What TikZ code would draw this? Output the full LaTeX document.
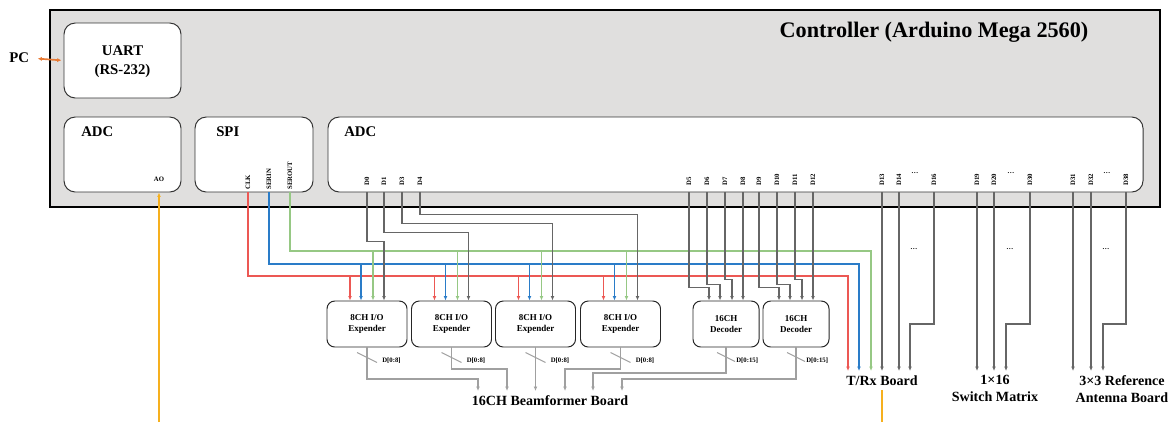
\documentclass[tikz,border=0pt]{standalone}
\usepackage{fontspec}
\setmainfont{Liberation Serif}
\usepackage{xcolor}
\usetikzlibrary{arrows.meta,calc}
\definecolor{ctrlgray}{RGB}{224,223,222}
\definecolor{clkred}{RGB}{236,88,84}
\definecolor{serblue}{RGB}{42,124,200}
\definecolor{sergreen}{RGB}{150,200,132}
\definecolor{wiregray}{RGB}{102,102,102}
\definecolor{outgray}{RGB}{160,160,160}
\definecolor{aoorange}{RGB}{246,176,30}
\definecolor{pcorange}{RGB}{232,122,52}
\tikzset{
  ctrlbox/.style={rectangle,draw=black,line width=1.4pt,fill=ctrlgray,inner sep=0pt},
  unitbox/.style={rectangle,rounded corners=8pt,draw=black!80,line width=0.7pt,
    fill=white,inner sep=0pt,minimum height=18.75mm},
  chipbox/.style={rectangle,rounded corners=5.5pt,draw=black!85,line width=0.7pt,
    fill=white,inner sep=0pt,minimum height=11.5mm,align=center,
    font=\bfseries\fontsize{6.4}{7.8}\selectfont},
  unitlabel/.style={anchor=west,inner sep=0pt,font=\bfseries\fontsize{10.5}{12}\selectfont},
  pinlabel/.style={rotate=90,anchor=west,inner sep=0pt,font=\bfseries\fontsize{4.8}{5}\selectfont},
  buslabel/.style={anchor=west,inner sep=0pt,font=\bfseries\fontsize{4.8}{5}\selectfont},
  dotsnode/.style={inner sep=0pt,font=\bfseries\fontsize{5}{5}\selectfont},
  boardlabel/.style={anchor=north,align=center,inner sep=3pt,
    font=\bfseries\fontsize{10}{12}\selectfont},
  tip/.style={-{Latex[length=3.2pt,width=2.8pt]}},
  clkwire/.style={tip,line width=1.2pt,clkred},
  serinwire/.style={tip,line width=1.2pt,serblue},
  seroutwire/.style={tip,line width=1.2pt,sergreen},
  dwire/.style={tip,line width=1.2pt,wiregray},
  outwire/.style={tip,line width=1.2pt,outgray},
  outslash/.style={line width=0.7pt,outgray},
  aowire/.style={tip,line width=1.2pt,aoorange},
  pcwire/.style={{Latex[length=3pt,width=3pt]}-{Latex[length=3pt,width=3pt]},line width=1.2pt,pcorange}
}
\begin{document}
\begin{tikzpicture}[x=0.25mm,y=-0.25mm]
  \useasboundingbox (0,0) rectangle (1169,422);
  \node[ctrlbox,minimum width=277.5mm,minimum height=49.25mm] (ctrl) at (605,108.5) {};
  \node[inner sep=0pt,font=\bfseries\fontsize{15.8}{18}\selectfont] (title) at (934,32) {Controller (Arduino Mega 2560)};

  \node[unitbox,minimum width=29.25mm] (uart) at (122.5,60.5) {};
  \node[align=center,inner sep=0pt,font=\bfseries\fontsize{10.5}{13.5}\selectfont] (uarttext) at (122.5,62) {UART\\(RS-232)};
  \node[unitbox,minimum width=29.25mm] (adcl) at (122.5,154.5) {};
  \node[unitbox,minimum width=29.5mm] (spi) at (254,154.5) {};
  \node[unitbox,minimum width=203.75mm] (adcd) at (735.5,154.5) {};
  \node[unitlabel] (adcltext) at (81,132) {ADC};
  \node[unitlabel] (spitext) at (216,132) {SPI};
  \node[unitlabel] (adcdtext) at (344,132) {ADC};
  \node[unitlabel] (pc) at (9,58) {PC};
  \node[buslabel,anchor=center] (ao) at (159,179) {AO};

  \coordinate (clk) at (248,192);
  \coordinate (serin) at (269,192);
  \coordinate (serout) at (290,192);
  \node[pinlabel] (clktext) at (248,190) {CLK};
  \node[pinlabel] (serintext) at (269,190) {SERIN};
  \node[pinlabel] (serouttext) at (290,190) {SEROUT};
  \foreach \n/\x in {0/367,1/384,3/402,4/420,5/689,6/707,7/725,8/743,9/759,10/777,11/795,12/813,
      13/882,14/899,16/934,19/977,20/994,30/1030,31/1073,32/1091,38/1126}{
    \coordinate (d\n) at (\x,192);
    \node[pinlabel] (pin\n) at (\x,186) {D\n};
  }
  \foreach \x/\n in {915/1,1011/2,1107/3}{
    \node[dotsnode] (pindots\n) at (\x,173) {\ldots};
    \node[dotsnode] (wiredots\n) at (\x-1,249) {\ldots};
  }

  \foreach \i/\x in {1/367,2/451.5,3/535.5,4/620.5}
    \node[chipbox,minimum width=20mm] (exp\i) at (\x,324) {8CH I/O\\Expender};
  \node[chipbox,minimum width=16.5mm] (dec1) at (726,324) {16CH\\Decoder};
  \node[chipbox,minimum width=16.5mm] (dec2) at (796,324) {16CH\\Decoder};

  \node[boardlabel] (bf) at (550,391) {16CH Beamformer Board};
  \node[boardlabel] (trx) at (882,371) {T/Rx Board};
  \node[boardlabel] (sw) at (995,371) {1×16\\Switch Matrix};
  \node[boardlabel] (ant) at (1122,371) {3×3 Reference\\Antenna Board};

  \coordinate (clkturn) at (848,276);
  \coordinate (serinturn) at (859,264);
  \coordinate (seroutturn) at (871,251);
  \draw[clkwire] (clk) |- (clkturn) -- (clkturn |- trx.north);
  \draw[serinwire] (serin) |- (serinturn) -- (serinturn |- trx.north);
  \draw[seroutwire] (serout) |- (seroutturn) -- (seroutturn |- trx.north);
  \foreach \i in {1,...,4}{
    \draw[clkwire] ($(exp\i.north)+(-17,-25)$) -- ($(exp\i.north)+(-17,0)$);
    \draw[serinwire] ($(exp\i.north)+(-6,-37)$) -- ($(exp\i.north)+(-6,0)$);
    \draw[seroutwire] ($(exp\i.north)+(6,-50)$) -- ($(exp\i.north)+(6,0)$);
  }

  \foreach \p/\e/\h in {d0/exp1/59,d1/exp2/68,d3/exp3/77,d4/exp4/86}
    \draw[dwire] (\p) |- ($(\e.north)+(17,-\h)$) -- ($(\e.north)+(17,0)$);
  \foreach \p/\e/\dx/\h in {d5/dec1/-17/13,d6/dec1/-6/16,d7/dec1/6/21,d9/dec2/-17/13,d10/dec2/-6/16,d11/dec2/6/21}
    \draw[dwire] (\p) |- ($(\e.north)+(\dx,-\h)$) -- ($(\e.north)+(\dx,0)$);
  \draw[dwire] (d8) -- (d8 |- dec1.north);
  \draw[dwire] (d12) -- (d12 |- dec2.north);
  \foreach \p/\b in {d13/trx,d14/trx,d19/sw,d20/sw,d31/ant,d32/ant}
    \draw[dwire] (\p) -- (\p |- \b.north);
  \foreach \p/\b/\dx in {d16/trx/28,d30/sw/11,d38/ant/-19}
    \draw[dwire] (\p) |- ($(\b.north)+(\dx,-47)$) -- ($(\b.north)+(\dx,0)$);

  \foreach \e/\dx/\h in {exp1/-72/12,exp2/-43/22,exp4/15/22,dec1/43/18,dec2/72/12}
    \draw[outwire] (\e.south) |- ($(bf.north)+(\dx,-\h)$) -- ($(bf.north)+(\dx,0)$);
  \draw[outwire] (exp3.south) -- (exp3.south |- bf.north);
  \foreach \e in {exp1,exp2,exp3,exp4}{
    \draw[outslash] ($(\e.south)+(-10,5)$) -- ($(\e.south)+(10,15)$);
    \node[buslabel] (w\e) at ($(\e.south)+(15,13)$) {D[0:8]};
  }
  \foreach \e in {dec1,dec2}{
    \draw[outslash] ($(\e.south)+(-9,5)$) -- ($(\e.south)+(9,14)$);
    \node[buslabel] (w\e) at ($(\e.south)+(10,13)$) {D[0:15]};
  }

  \coordinate (aoin) at (159,422);
  \draw[aowire] (aoin) -- (aoin |- adcl.south);
  \coordinate (trxout) at (882,422);
  \draw[aowire,-] (trx.south) -- (trxout);
  \draw[pcwire,shorten <=6pt,shorten >=1.5pt] (pc.east) -- (uart.west);
\end{tikzpicture}
\end{document}
